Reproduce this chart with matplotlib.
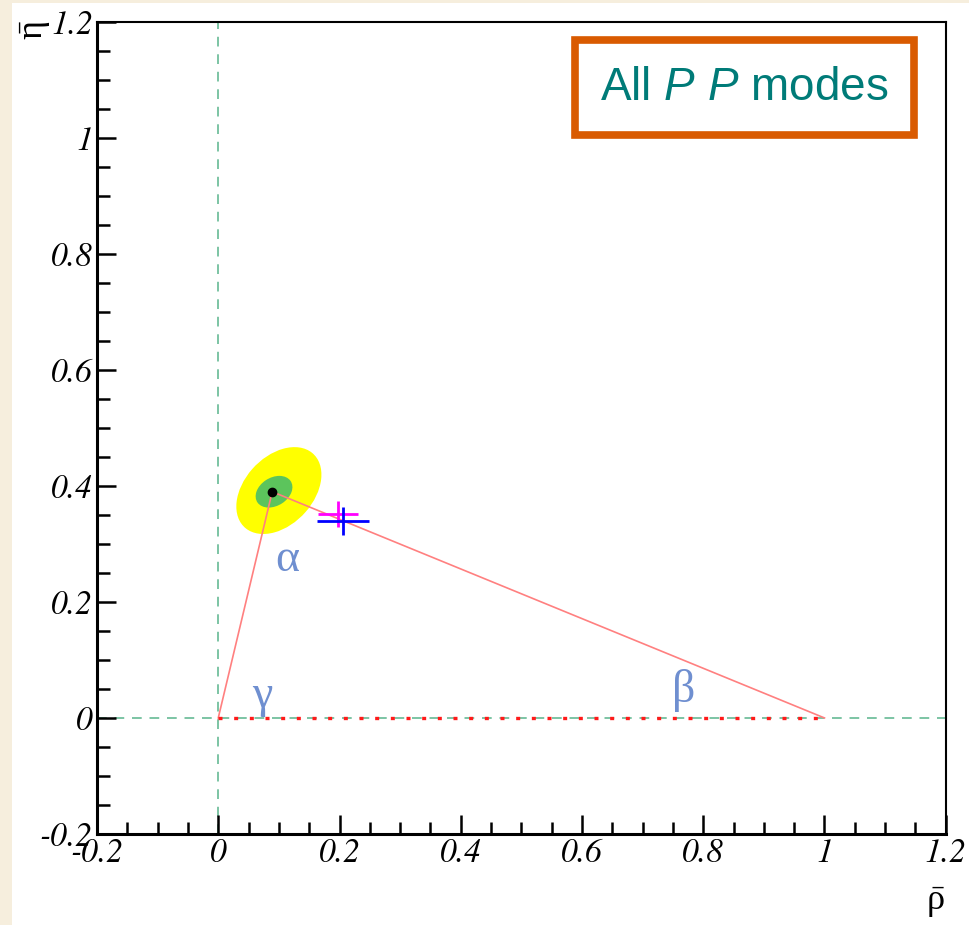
import matplotlib
matplotlib.use('Agg')
import matplotlib.pyplot as plt
from matplotlib.patches import Ellipse, Rectangle
from matplotlib.ticker import MultipleLocator

# unitarity triangle apex and fit contours
apex = (0.089, 0.39)
base = [(0.0, 0.0), (1.0, 0.0)]
ell_95 = dict(xy=(0.10, 0.392), width=0.17, height=0.115, angle=50)
ell_68 = dict(xy=(0.092, 0.39), width=0.066, height=0.048, angle=35)
pt_magenta = dict(x=0.198, y=0.352, xerr=0.033, yerr=0.022)
pt_blue = dict(x=0.206, y=0.340, xerr=0.043, yerr=0.024)
angle_labels = ["α", "β", "γ"]
angle_pos = [(0.113, 0.272), (0.768, 0.048), (0.072, 0.038)]
ticks = [-0.2, 0, 0.2, 0.4, 0.6, 0.8, 1, 1.2]
tick_labels = ["-0.2", "0", "0.2", "0.4", "0.6", "0.8", "1", "1.2"]

plt.rcParams['mathtext.fontset'] = 'custom'
plt.rcParams['mathtext.rm'] = 'Liberation Serif'
plt.rcParams['mathtext.it'] = 'Liberation Sans:italic'

fig = plt.figure(figsize=(9.7, 9.25), dpi=100)
fig.patch.set_facecolor("#F6EEDD")
fig.patches.append(Rectangle((12 / 970, 0), 1, 1 - 3 / 925, transform=fig.transFigure,
                             facecolor="white", edgecolor="none", zorder=-5))

ax = fig.add_axes([0.100, 0.0984, 0.875, 0.878])
ax.set_xlim(-0.2, 1.2)
ax.set_ylim(-0.2, 1.2)
ax.set_facecolor("white")

# contours
ax.add_patch(Ellipse(facecolor="#FFFF00", edgecolor="none", zorder=2, **ell_95))
ax.add_patch(Ellipse(facecolor="#5CC45C", edgecolor="none", zorder=3, **ell_68))

# axes lines at zero
grn = "#7CC4A4"
ax.axvline(0, color=grn, ls=(0, (5, 4)), lw=1.4, zorder=1)
ax.axhline(0, color=grn, ls=(0, (5, 4)), lw=1.4, zorder=1)

# triangle
tri_x = [base[0][0], apex[0], base[1][0]]
tri_y = [base[0][1], apex[1], base[1][1]]
ax.plot(tri_x, tri_y, color="#FF8080", lw=1.2, zorder=4)
ax.plot([base[0][0], base[1][0]], [base[0][1], base[1][1]], color="#FF1A1A",
        ls=(0, (1.2, 3.5)), lw=2.4, zorder=4)
ax.plot(*apex, marker="o", color="black", ms=6, zorder=5)

# measured points
ax.errorbar(pt_magenta['x'], pt_magenta['y'], xerr=pt_magenta['xerr'], yerr=pt_magenta['yerr'],
            color="#FF00FF", lw=2, zorder=6)
ax.errorbar(pt_blue['x'], pt_blue['y'], xerr=pt_blue['xerr'], yerr=pt_blue['yerr'],
            color="#0000FF", lw=2, zorder=6)

for lab, (x, y) in zip(angle_labels, angle_pos):
    ax.text(x, y, lab, color="#6F8FD0", fontsize=33, family="Liberation Serif",
            ha="center", va="center", zorder=7)

# ticks, italic serif digits
ax.set_xticks(ticks)
ax.set_xticklabels(tick_labels, fontsize=24, family="STIXGeneral", style="italic")
ax.set_yticks(ticks)
ax.set_yticklabels(tick_labels, fontsize=24, family="STIXGeneral", style="italic")
ax.xaxis.set_minor_locator(MultipleLocator(0.05))
ax.yaxis.set_minor_locator(MultipleLocator(0.05))
ax.tick_params(which="both", direction="in", top=False, right=False, width=1.8)
ax.tick_params(which="major", length=14, pad=3)
ax.tick_params(which="minor", length=9)
for s in ["left", "bottom"]:
    ax.spines[s].set_linewidth(2.2)
for s in ["top", "right"]:
    ax.spines[s].set_linewidth(1.5)

# axis titles
fig.text(935 / 970, 1 - 903 / 925, r"$\bar{\mathrm{\rho}}$", fontsize=26, ha="center", va="center")
fig.text(36 / 970, 1 - 30 / 925, r"$\bar{\mathrm{\eta}}$", fontsize=26, ha="center", va="center",
         rotation=90)

# label box
ax.text(0.763, 0.919, r"All $\mathit{P}$ $\mathit{P}$ modes", transform=ax.transAxes,
        fontsize=33, color="#007B78", family="Liberation Sans", ha="center", va="center",
        bbox=dict(boxstyle="square,pad=0.55", facecolor="white", edgecolor="#D95A00", linewidth=5.5),
        zorder=8)

fig.savefig("out.png", dpi=100, facecolor=fig.get_facecolor())
